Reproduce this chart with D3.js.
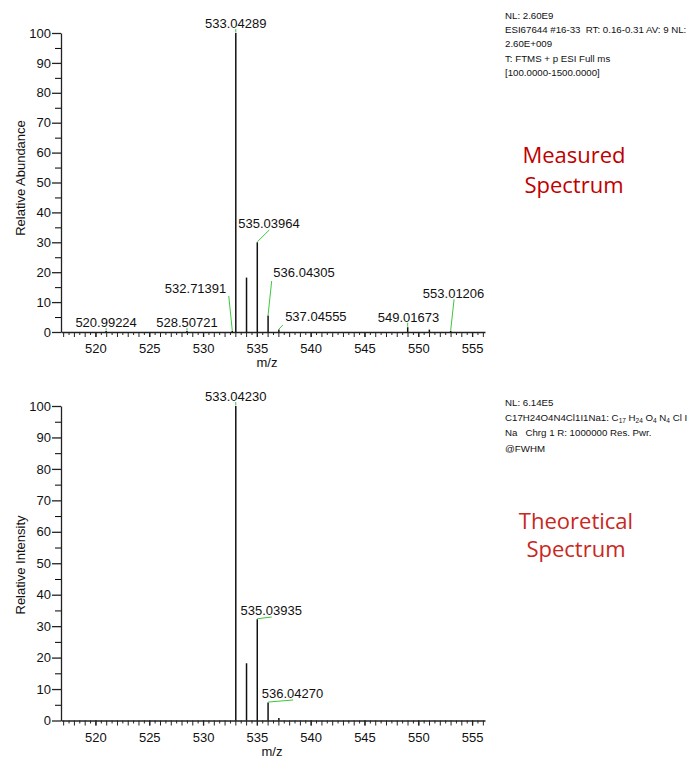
<!DOCTYPE html>
<html>
<head>
<script src="https://d3js.org/d3.v7.min.js"></script>
<style>
  body { margin: 0; background: #fff; }
  text { font-family: "Liberation Sans", Arial, sans-serif; fill: #111; }
  .tick text { font-size: 13px; }
  .info { font-size: 9.7px; }
  .big { font-family: "Open Sans", sans-serif; font-size: 22px; text-anchor: middle; }
</style>
</head>
<body>
<svg id="chart"></svg>
<script>
// measured spectrum
const measuredMz = [520.99224, 528.50721, 532.71391, 533.04289, 534.04, 535.03964, 536.04305, 537.04555, 549.01673, 551.03, 553.01206];
const measuredAbundance = [0.3, 0.3, 0.4, 100, 18.2, 30, 5.5, 0.8, 1.6, 0.8, 0.4];
const measuredLabelled = [520.99224, 528.50721, 532.71391, 533.04289, 535.03964, 536.04305, 537.04555, 549.01673, 553.01206];

// theoretical spectrum
const theoreticalMz = [533.04230, 534.04, 535.03935, 536.04270, 537.0455];
const theoreticalIntensity = [100, 18.2, 32.2, 5.7, 0.8];
const theoreticalLabelled = [533.04230, 535.03935, 536.04270];

const xTicks = [520, 525, 530, 535, 540, 545, 550, 555];
const yTicks = [0, 10, 20, 30, 40, 50, 60, 70, 80, 90, 100];

// label placement, px relative to peak top: [dx, dy, lineEndX, lineEndY]
const measuredLabelPos = [
  [0, -4.4, 0, -3], [0, -4.4, 0, -3], [-36.7, -38.1, -3.5, -34.8], [0, -5, 0, -4],
  [11.7, -14.6, 12, -12.3], [36, -38.9, 3.6, -34.6], [37, -8.9, 4, -4.6],
  [0.8, -5.5, 0, -4.5], [2.9, -33.1, 3.4, -31.5]
];
const theoreticalLabelPos = [[0, -5, 0, -4], [13.9, -4.2, 14.4, -2.2], [24.4, -4.3, 25, -2.6]];

const width = 691, height = 761;
const svg = d3.select("#chart").attr("width", width).attr("height", height);

const x = d3.scaleLinear().domain([516.8, 556.2]).range([61, 485]);

function drawPanel(mz, vals, labelled, labelPos, yRange, yTitle, titleY, xTitleX) {
  const y = d3.scaleLinear().domain([0, 100]).range(yRange);
  const g = svg.append("g");
  const y0 = yRange[0];

  // minor y ticks
  g.append("g").attr("transform", "translate(61,0)")
    .call(d3.axisLeft(y).tickValues(d3.range(5, 100, 10)).tickSize(6).tickFormat("").tickSizeOuter(0))
    .call(a => a.select(".domain").remove());
  g.append("g").attr("transform", "translate(61,0)")
    .call(d3.axisLeft(y).tickValues(yTicks).tickSize(9).tickPadding(1).tickSizeOuter(0))
    .call(a => a.selectAll("line, path").attr("stroke", "#222").attr("stroke-width", 1.3));

  // minor x ticks every 0.5
  const halfs = d3.range(517, 556.01, 0.5);
  g.append("g").attr("transform", `translate(0,${y0})`)
    .call(d3.axisBottom(x).tickValues(halfs).tickSize(3).tickFormat("").tickSizeOuter(0))
    .call(a => a.select(".domain").remove())
    .call(a => a.selectAll(".tick line").attr("y2", d => Number.isInteger(d) ? 5 : 3).attr("stroke", "#222"));
  g.append("g").attr("transform", `translate(0,${y0})`)
    .call(d3.axisBottom(x).tickValues(xTicks).tickSize(5).tickPadding(7).tickSizeOuter(0))
    .call(a => a.selectAll("line, path").attr("stroke", "#222").attr("stroke-width", 1.3));

  // peaks
  g.selectAll(".peak").data(mz).join("line")
    .attr("x1", d => x(d)).attr("x2", d => x(d))
    .attr("y1", y0).attr("y2", (d, i) => y(vals[i]))
    .attr("stroke", "#111").attr("stroke-width", 1.5);

  // labels + connectors
  labelled.forEach((m, k) => {
    const v = vals[mz.indexOf(m)];
    const px = x(m), py = y(v);
    const p = labelPos[k];
    g.append("line")
      .attr("x1", px).attr("y1", py - 0.5)
      .attr("x2", px + p[2]).attr("y2", py + p[3])
      .attr("stroke", "#3cc83c").attr("stroke-width", 1);
    g.append("text")
      .attr("x", px + p[0]).attr("y", py + p[1])
      .attr("text-anchor", "middle").attr("font-size", 13)
      .text(m.toFixed(5));
  });

  g.append("text")
    .attr("transform", `translate(25,${titleY}) rotate(-90)`)
    .attr("text-anchor", "middle").attr("font-size", 13)
    .text(yTitle);
  g.append("text")
    .attr("x", xTitleX).attr("y", y0 + 35)
    .attr("text-anchor", "middle").attr("font-size", 13)
    .text("m/z");
}

drawPanel(measuredMz, measuredAbundance, measuredLabelled, measuredLabelPos, [332, 33], "Relative Abundance", 178, 267);
drawPanel(theoreticalMz, theoreticalIntensity, theoreticalLabelled, theoreticalLabelPos, [720.5, 406], "Relative Intensity", 565, 272);

// header info, measured
const infoTop = ["NL: 2.60E9", "ESI67644 #16-33  RT: 0.16-0.31 AV: 9 NL:", "2.60E+009", "T: FTMS + p ESI Full ms", "[100.0000-1500.0000]"];
svg.selectAll(".infoTop").data(infoTop).join("text")
  .attr("class", "info").attr("x", 505).attr("y", (d, i) => 19 + i * 14.2)
  .attr("xml:space", "preserve").text(d => d);

// header info, theoretical
const info2 = svg.append("g").attr("class", "info");
info2.append("text").attr("class", "info").attr("x", 505).attr("y", 406).text("NL: 6.14E5");
const f = info2.append("text").attr("class", "info").attr("x", 505).attr("y", 421).attr("xml:space", "preserve");
f.append("tspan").text("C17H24O4N4Cl1I1Na1: C");
[["17", " H"], ["24", " O"], ["4", " N"], ["4", " Cl I"]].forEach(p => {
  f.append("tspan").attr("dy", 2).attr("font-size", 6.5).text(p[0]);
  f.append("tspan").attr("dy", -2).text(p[1]);
});
info2.append("text").attr("class", "info").attr("x", 505).attr("y", 436).attr("xml:space", "preserve").text("Na   Chrg 1 R: 1000000 Res. Pwr.");
info2.append("text").attr("class", "info").attr("x", 505).attr("y", 451.5).text("@FWHM");

// big titles
svg.append("text").attr("class", "big").attr("x", 574).attr("y", 163).style("fill", "#c00000").text("Measured");
svg.append("text").attr("class", "big").attr("x", 574).attr("y", 192.5).style("fill", "#c00000").text("Spectrum");
svg.append("text").attr("class", "big").attr("x", 576).attr("y", 529).style("fill", "#c8281e").text("Theoretical");
svg.append("text").attr("class", "big").attr("x", 576).attr("y", 557).style("fill", "#c8281e").text("Spectrum");
</script>
</body>
</html>
